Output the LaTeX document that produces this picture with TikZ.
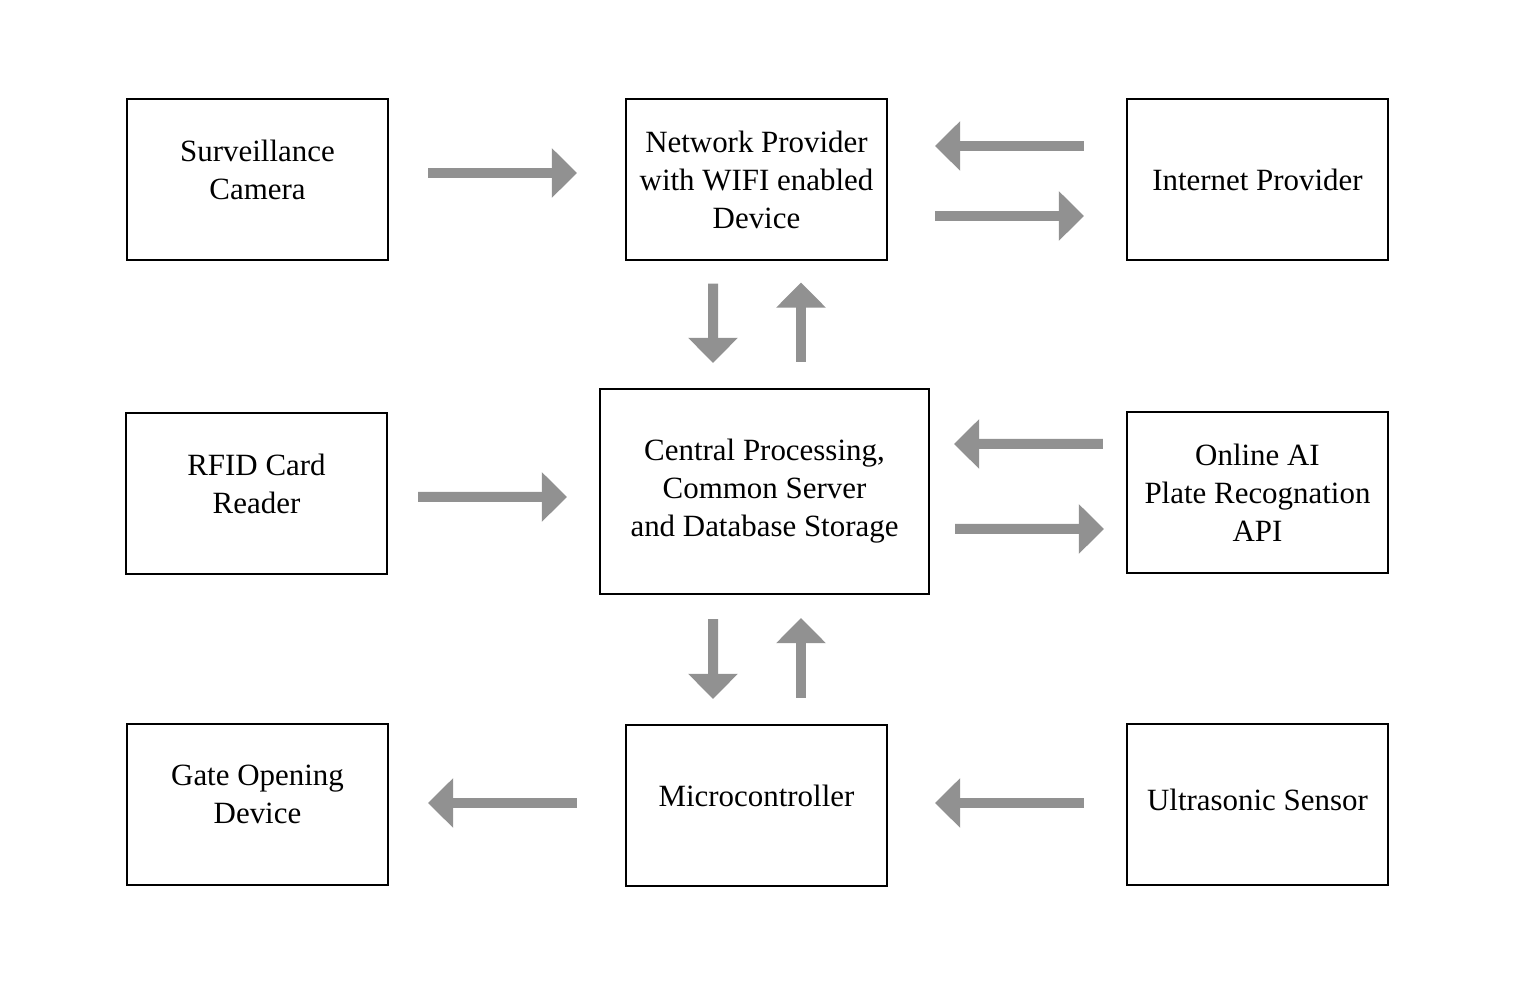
\documentclass[tikz,border=0pt]{standalone}
\usepackage{fontspec}
\setmainfont{Liberation Serif}
\usetikzlibrary{arrows.meta}
\definecolor{flowgray}{RGB}{145,145,145}

\begin{document}
\begin{tikzpicture}[
      block/.style={draw,line width=0.6pt,minimum width=2.61cm,minimum height=1.61cm,
        align=center,font=\fontsize{8.8}{10.8}\selectfont},
      raised/.style={text depth=#1},
      flow/.style={draw=flowgray,line width=0.1cm,-{Triangle[width=0.48cm,length=0.25cm]}}
    ]

    % fix the page size to the one of the reference
    \useasboundingbox (0,0) rectangle (15.14,-10);

    % Draw the blocks, row by row
    % - the central one is bigger than the others
    % - some texts sit a little above the middle, hence the extra depth (raised)
      % top row
      \node[block,raised=0.19cm] (camera) at (2.575,-1.795) {Surveillance\\Camera};
      \node[block] (network) at (7.565,-1.795) {Network Provider\\with WIFI enabled\\Device};
      \node[block] (internet) at (12.575,-1.795) {Internet Provider};
      % middle row
      \node[block,raised=0.2cm] (rfid) at (2.565,-4.935) {RFID Card\\Reader};
      \node[block,minimum width=3.29cm,minimum height=2.05cm] (central) at (7.645,-4.915)
        {Central Processing,\\Common Server\\and Database Storage};
      \node[block] (ai) at (12.575,-4.925) {Online AI\\Plate Recognation\\API};
      % bottom row
      \node[block,raised=0.2cm] (gate) at (2.575,-8.045) {Gate Opening\\Device};
      \node[block,raised=0.2cm] (micro) at (7.565,-8.055) {Microcontroller};
      \node[block,raised=0.1cm] (ultra) at (12.575,-8.045) {Ultrasonic Sensor};

    % Draw the arrows. They do not touch the blocks, so shift them off the anchors
      % camera feeds the network
      \draw[flow] ([shift={(0.39,0.065)}]camera.east) -- ([shift={(-0.48,0.065)}]network.west);
      % network <-> internet
      \draw[flow] ([shift={(-0.42,0.335)}]internet.west) -- ([shift={(0.47,0.335)}]network.east);
      \draw[flow] ([shift={(0.47,-0.365)}]network.east) -- ([shift={(-0.42,-0.365)}]internet.west);
      % network <-> central
      \draw[flow] ([shift={(-0.435,-0.225)}]network.south) -- ([shift={(-0.515,0.25)}]central.north);
      \draw[flow] ([shift={(0.365,0.26)}]central.north) -- ([shift={(0.445,-0.215)}]network.south);
      % rfid feeds central
      \draw[flow] ([shift={(0.30,-0.035)}]rfid.east) -- ([shift={(-0.32,-0.055)}]central.west);
      % central <-> online AI
      \draw[flow] ([shift={(-0.23,0.485)}]ai.west) -- ([shift={(0.24,0.475)}]central.east);
      \draw[flow] ([shift={(0.25,-0.375)}]central.east) -- ([shift={(-0.22,-0.365)}]ai.west);
      % central <-> microcontroller
      \draw[flow] ([shift={(-0.515,-0.24)}]central.south) -- ([shift={(-0.435,0.25)}]micro.north);
      \draw[flow] ([shift={(0.445,0.26)}]micro.north) -- ([shift={(0.365,-0.23)}]central.south);
      % microcontroller opens the gate, sensor feeds microcontroller
      \draw[flow] ([shift={(-0.48,0.025)}]micro.west) -- ([shift={(0.39,0.015)}]gate.east);
      \draw[flow] ([shift={(-0.42,0.015)}]ultra.west) -- ([shift={(0.47,0.025)}]micro.east);
    \end{tikzpicture}
\end{document}
